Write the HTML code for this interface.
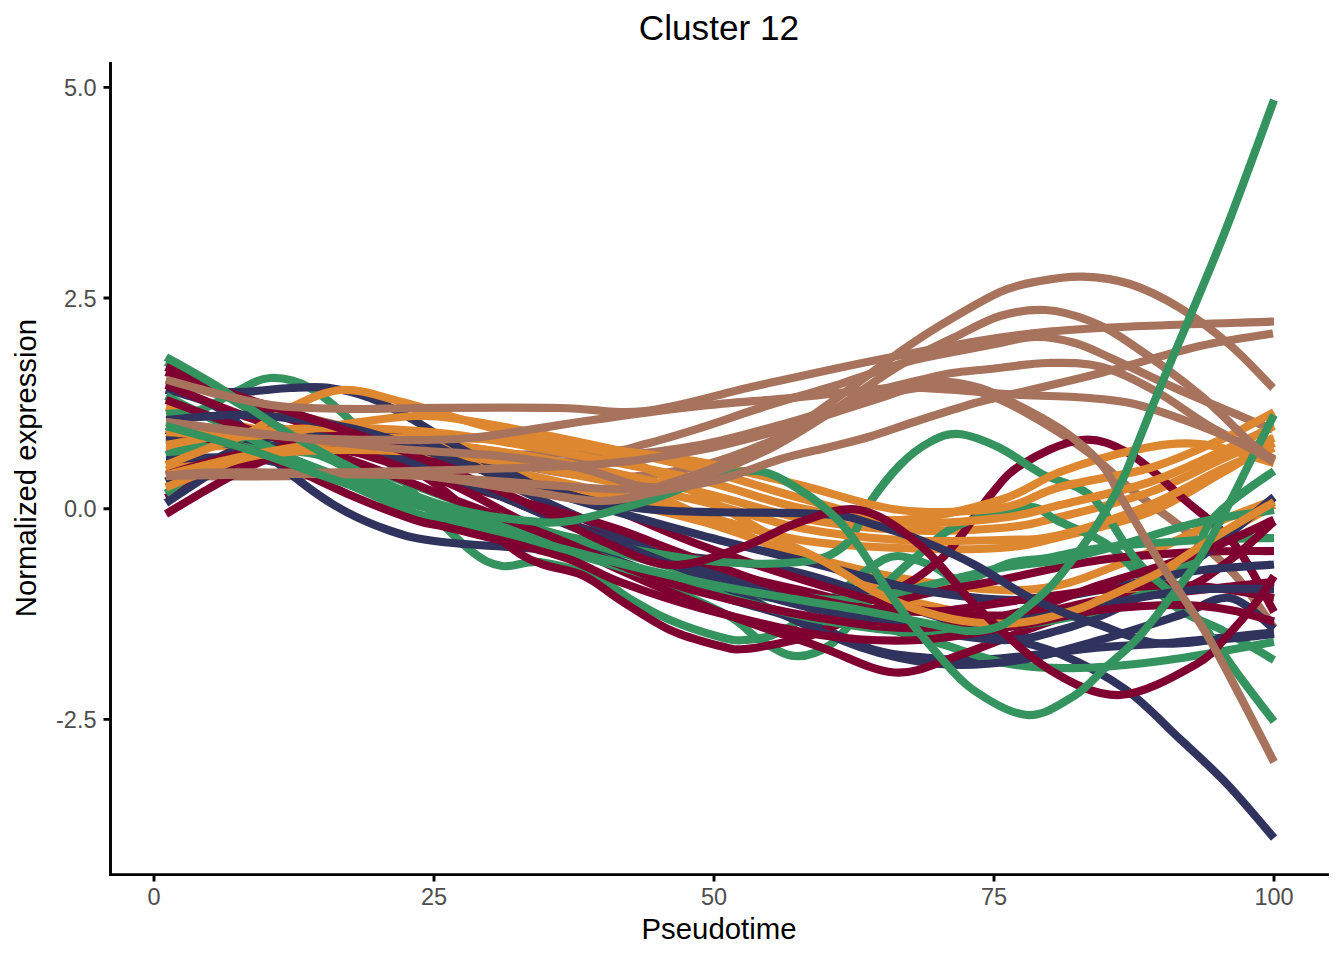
<!DOCTYPE html>
<html><head><meta charset="utf-8"><title>Cluster 12</title>
<style>
html,body{margin:0;padding:0;background:#fff;}
body{width:1344px;height:960px;overflow:hidden;font-family:"Liberation Sans",Arial,sans-serif;}
svg{display:block;}
text{font-family:"Liberation Sans",Arial,sans-serif;}
.tk{font-size:23.47px;fill:#4D4D4D;}
.ax{font-size:29.33px;fill:#000;}
.ti{font-size:35.2px;fill:#000;}
.c{fill:none;stroke-width:8.2;stroke-linejoin:round;stroke-linecap:butt;}
</style></head><body>
<svg width="1344" height="960" viewBox="0 0 1344 960">
<rect width="1344" height="960" fill="#fff"/>
<g class="c">
<path stroke="#A7735C" d="M166.0 476.0C188.3 476.0 252.7 477.0 300.0 476.0C347.3 475.0 400.0 473.0 450.0 470.0C500.0 467.0 558.3 462.2 600.0 458.0C641.7 453.8 670.0 450.5 700.0 445.0C730.0 439.5 758.3 430.8 780.0 425.0C801.7 419.2 813.3 415.0 830.0 410.0C846.7 405.0 861.7 399.0 880.0 395.0C898.3 391.0 923.3 386.5 940.0 386.0C956.7 385.5 966.5 388.0 980.0 392.0C993.5 396.0 1003.5 400.3 1021.0 410.0C1038.5 419.7 1066.0 436.2 1085.0 450.0C1104.0 463.8 1118.3 479.2 1135.0 492.5C1151.7 505.8 1168.3 516.2 1185.0 530.0C1201.7 543.8 1220.2 558.7 1235.0 575.0C1249.8 591.3 1267.5 619.2 1274.0 628.0"/>
<path stroke="#A7735C" d="M166.0 380.0C179.8 383.8 218.3 395.0 249.0 403.0C279.7 411.0 313.2 419.3 350.0 428.0C386.8 436.7 428.3 446.8 470.0 455.0C511.7 463.2 561.7 475.2 600.0 477.0C638.3 478.8 670.0 472.6 700.0 466.0C730.0 459.4 761.5 444.7 780.0 437.5C798.5 430.3 800.7 428.2 811.0 423.0C821.3 417.8 831.5 411.2 842.0 406.0C852.5 400.8 866.2 395.1 874.0 392.0C881.8 388.9 881.3 389.5 889.0 387.5C896.7 385.5 909.5 382.4 920.0 380.0C930.5 377.6 940.3 374.8 952.0 373.0C963.7 371.2 974.0 370.7 990.0 369.0C1006.0 367.3 1029.3 363.3 1048.0 363.0C1066.7 362.7 1083.8 362.2 1102.0 367.0C1120.2 371.8 1138.8 382.0 1157.0 392.0C1175.2 402.0 1191.5 415.8 1211.0 427.0C1230.5 438.2 1263.5 453.7 1274.0 459.0"/>
<path stroke="#A7735C" d="M166.0 437.0C186.7 438.8 244.0 445.0 290.0 448.0C336.0 451.0 390.3 454.3 442.0 455.0C493.7 455.7 566.2 453.8 600.0 452.0C633.8 450.2 628.3 448.0 645.0 444.0C661.7 440.0 681.8 433.7 700.0 428.0C718.2 422.3 737.3 415.3 754.0 410.0C770.7 404.7 786.7 400.0 800.0 396.0C813.3 392.0 824.3 389.0 834.0 386.0C843.7 383.0 844.7 382.3 858.0 378.0C871.3 373.7 892.0 365.5 914.0 360.0C936.0 354.5 969.8 348.8 990.0 345.0C1010.2 341.2 1020.8 337.3 1035.0 337.0C1049.2 336.7 1062.0 339.3 1075.0 343.0C1088.0 346.7 1094.8 350.8 1113.0 359.0C1131.2 367.2 1157.3 380.2 1184.0 392.0C1210.7 403.8 1258.2 423.3 1273.0 429.6"/>
<path stroke="#DD8730" d="M166.0 407.0C173.2 408.7 193.3 413.2 209.0 417.0C224.7 420.8 236.5 426.2 260.0 430.0C283.5 433.8 318.3 437.5 350.0 440.0C381.7 442.5 415.0 441.3 450.0 445.0C485.0 448.7 518.3 454.2 560.0 462.0C601.7 469.8 660.0 482.7 700.0 492.0C740.0 501.3 766.7 511.7 800.0 518.0C833.3 524.3 866.7 528.3 900.0 530.0C933.3 531.7 973.3 530.2 1000.0 528.0C1026.7 525.8 1035.0 523.0 1060.0 517.0C1085.0 511.0 1123.3 501.5 1150.0 492.0C1176.7 482.5 1203.3 467.5 1220.0 460.0C1236.7 452.5 1241.0 450.7 1250.0 447.0C1259.0 443.3 1270.0 439.5 1274.0 438.0"/>
<path stroke="#DD8730" d="M166.0 450.0C180.0 449.2 219.3 445.3 250.0 445.0C280.7 444.7 316.7 445.5 350.0 448.0C383.3 450.5 415.0 454.3 450.0 460.0C485.0 465.7 518.3 472.8 560.0 482.0C601.7 491.2 660.0 505.3 700.0 515.0C740.0 524.7 766.7 534.5 800.0 540.0C833.3 545.5 866.7 546.7 900.0 548.0C933.3 549.3 973.3 549.8 1000.0 548.0C1026.7 546.2 1035.0 543.0 1060.0 537.0C1085.0 531.0 1123.3 522.5 1150.0 512.0C1176.7 501.5 1203.3 483.3 1220.0 474.0C1236.7 464.7 1241.0 461.2 1250.0 456.0C1259.0 450.8 1270.0 445.2 1274.0 443.0"/>
<path stroke="#DD8730" d="M166.0 470.0C180.0 467.0 219.3 455.7 250.0 452.0C280.7 448.3 316.7 446.7 350.0 448.0C383.3 449.3 415.0 453.3 450.0 460.0C485.0 466.7 518.3 477.8 560.0 488.0C601.7 498.2 660.0 510.0 700.0 521.0C740.0 532.0 766.7 544.5 800.0 554.0C833.3 563.5 866.7 572.0 900.0 578.0C933.3 584.0 973.3 588.8 1000.0 590.0C1026.7 591.2 1041.7 588.7 1060.0 585.0C1078.3 581.3 1093.3 574.2 1110.0 568.0C1126.7 561.8 1143.3 555.2 1160.0 548.0C1176.7 540.8 1191.0 533.0 1210.0 525.0C1229.0 517.0 1263.3 504.2 1274.0 500.0"/>
<path stroke="#DD8730" d="M166.0 455.0C180.0 452.5 219.3 443.3 250.0 440.0C280.7 436.7 316.7 434.2 350.0 435.0C383.3 435.8 415.0 440.5 450.0 445.0C485.0 449.5 531.7 456.2 560.0 462.0C588.3 467.8 596.7 471.2 620.0 480.0C643.3 488.8 675.0 504.2 700.0 515.0C725.0 525.8 750.0 537.2 770.0 545.0C790.0 552.8 798.3 553.2 820.0 562.0C841.7 570.8 870.0 588.7 900.0 598.0C930.0 607.3 973.3 614.8 1000.0 618.0C1026.7 621.2 1041.7 620.0 1060.0 617.0C1078.3 614.0 1093.3 607.0 1110.0 600.0C1126.7 593.0 1143.3 584.7 1160.0 575.0C1176.7 565.3 1191.0 553.7 1210.0 542.0C1229.0 530.3 1263.3 511.2 1274.0 505.0"/>
<path stroke="#35935F" d="M166.0 414.0C171.7 413.3 188.2 413.8 200.0 410.0C211.8 406.2 225.3 396.3 237.0 391.0C248.7 385.7 257.8 378.5 270.0 378.0C282.2 377.5 295.0 379.3 310.0 388.0C325.0 396.7 341.7 411.3 360.0 430.0C378.3 448.7 401.7 480.0 420.0 500.0C438.3 520.0 456.3 539.0 470.0 550.0C483.7 561.0 490.3 564.0 502.0 566.0C513.7 568.0 524.5 560.2 540.0 562.0C555.5 563.8 579.7 570.7 595.0 577.0C610.3 583.3 619.5 592.8 632.0 600.0C644.5 607.2 655.3 613.8 670.0 620.0C684.7 626.2 707.5 633.7 720.0 637.0C732.5 640.3 735.0 640.8 745.0 640.0C755.0 639.2 765.8 638.7 780.0 632.0C794.2 625.3 815.0 610.7 830.0 600.0C845.0 589.3 858.8 575.3 870.0 568.0C881.2 560.7 887.0 556.5 897.0 556.0C907.0 555.5 919.0 561.0 930.0 565.0C941.0 569.0 949.7 580.3 963.0 580.0C976.3 579.7 996.0 566.7 1010.0 563.0C1024.0 559.3 1032.0 560.5 1047.0 558.0C1062.0 555.5 1074.5 551.0 1100.0 548.0C1125.5 545.0 1171.0 541.7 1200.0 540.0C1229.0 538.3 1261.7 538.3 1274.0 538.0"/>
<path stroke="#31335F" d="M166.0 389.5C173.2 391.8 196.7 397.1 209.0 403.0C221.3 408.9 228.2 414.7 240.0 425.0C251.8 435.3 264.3 451.7 280.0 465.0C295.7 478.3 316.0 494.2 334.0 505.0C352.0 515.8 370.0 523.8 388.0 530.0C406.0 536.2 413.3 538.7 442.0 542.0C470.7 545.3 517.0 547.3 560.0 550.0C603.0 552.7 660.0 554.2 700.0 558.0C740.0 561.8 766.7 565.2 800.0 573.0C833.3 580.8 866.7 594.5 900.0 605.0C933.3 615.5 973.3 627.8 1000.0 636.0C1026.7 644.2 1039.2 645.2 1060.0 654.0C1080.8 662.8 1105.0 674.8 1125.0 689.0C1145.0 703.2 1163.0 723.2 1180.0 739.0C1197.0 754.8 1211.3 767.5 1227.0 784.0C1242.7 800.5 1266.2 829.0 1274.0 838.0"/>
<path stroke="#7F0030" d="M166.0 372.0C180.0 377.5 219.3 393.7 250.0 405.0C280.7 416.3 316.7 428.3 350.0 440.0C383.3 451.7 415.0 461.7 450.0 475.0C485.0 488.3 518.3 505.0 560.0 520.0C601.7 535.0 660.0 553.3 700.0 565.0C740.0 576.7 771.7 584.2 800.0 590.0C828.3 595.8 846.7 605.0 870.0 600.0C893.3 595.0 920.2 577.2 940.0 560.0C959.8 542.8 975.5 512.8 989.0 497.0C1002.5 481.2 1005.7 474.5 1021.0 465.0C1036.3 455.5 1062.8 441.8 1081.0 440.0C1099.2 438.2 1112.7 444.0 1130.0 454.0C1147.3 464.0 1167.5 484.8 1185.0 500.0C1202.5 515.2 1220.2 526.3 1235.0 545.0C1249.8 563.7 1267.5 600.8 1274.0 612.0"/>
<path stroke="#35935F" d="M166.0 455.0C174.8 452.7 200.0 443.2 219.0 441.0C238.0 438.8 258.2 437.5 280.0 442.0C301.8 446.5 321.7 456.7 350.0 468.0C378.3 479.3 415.0 497.2 450.0 510.0C485.0 522.8 526.7 533.3 560.0 545.0C593.3 556.7 622.2 568.3 650.0 580.0C677.8 591.7 708.7 605.0 727.0 615.0C745.3 625.0 748.7 633.2 760.0 640.0C771.3 646.8 783.3 655.2 795.0 656.0C806.7 656.8 819.2 652.3 830.0 645.0C840.8 637.7 850.3 622.5 860.0 612.0C869.7 601.5 877.7 592.0 888.0 582.0C898.3 572.0 910.2 561.5 922.0 552.0C933.8 542.5 941.5 532.5 959.0 525.0C976.5 517.5 1010.5 507.7 1027.0 507.0C1043.5 506.3 1045.0 515.0 1058.0 521.0C1071.0 527.0 1091.3 534.0 1105.0 543.0C1118.7 552.0 1127.5 563.8 1140.0 575.0C1152.5 586.2 1166.3 600.8 1180.0 610.0C1193.7 619.2 1206.3 621.7 1222.0 630.0C1237.7 638.3 1265.3 655.0 1274.0 660.0"/>
<path stroke="#31335F" d="M166.0 460.0C180.0 459.7 219.3 454.7 250.0 458.0C280.7 461.3 322.5 473.0 350.0 480.0C377.5 487.0 398.3 495.0 415.0 500.0C431.7 505.0 425.8 503.3 450.0 510.0C474.2 516.7 518.3 526.7 560.0 540.0C601.7 553.3 660.0 576.7 700.0 590.0C740.0 603.3 770.8 610.0 800.0 620.0C829.2 630.0 854.2 643.8 875.0 650.0C895.8 656.2 908.3 655.8 925.0 657.5C941.7 659.2 958.3 660.2 975.0 660.0C991.7 659.8 1004.2 658.1 1025.0 656.0C1045.8 653.9 1076.2 649.7 1100.0 647.5C1123.8 645.3 1139.0 645.5 1168.0 643.0C1197.0 640.5 1256.3 634.2 1274.0 632.5"/>
<path stroke="#7F0030" d="M166.0 498.0C175.0 493.3 199.3 478.0 220.0 470.0C240.7 462.0 266.7 453.3 290.0 450.0C313.3 446.7 336.7 445.0 360.0 450.0C383.3 455.0 403.3 462.7 430.0 480.0C456.7 497.3 494.7 538.2 520.0 554.0C545.3 569.8 565.3 567.3 582.0 575.0C598.7 582.7 605.3 590.8 620.0 600.0C634.7 609.2 653.3 622.3 670.0 630.0C686.7 637.7 707.5 642.8 720.0 646.0C732.5 649.2 732.5 650.0 745.0 649.0C757.5 648.0 782.5 642.8 795.0 640.0C807.5 637.2 802.5 638.7 820.0 632.0C837.5 625.3 870.0 608.7 900.0 600.0C930.0 591.3 966.7 586.7 1000.0 580.0C1033.3 573.3 1066.7 564.7 1100.0 560.0C1133.3 555.3 1171.0 553.5 1200.0 552.0C1229.0 550.5 1261.7 551.2 1274.0 551.0"/>
<path stroke="#35935F" d="M166.0 362.0C174.8 367.0 200.0 381.0 219.0 392.0C238.0 403.0 258.2 415.0 280.0 428.0C301.8 441.0 321.7 456.0 350.0 470.0C378.3 484.0 415.0 499.5 450.0 512.0C485.0 524.5 518.3 532.8 560.0 545.0C601.7 557.2 660.0 575.3 700.0 585.0C740.0 594.7 773.3 597.0 800.0 603.0C826.7 609.0 837.5 614.5 860.0 621.0C882.5 627.5 910.0 634.8 935.0 642.0C960.0 649.2 985.8 659.7 1010.0 664.0C1034.2 668.3 1053.7 668.7 1080.0 668.0C1106.3 667.3 1135.7 664.3 1168.0 660.0C1200.3 655.7 1256.3 645.0 1274.0 642.0"/>
<path stroke="#31335F" d="M166.0 481.6C173.2 478.3 193.3 468.9 209.0 462.0C224.7 455.1 239.8 445.7 260.0 440.0C280.2 434.3 303.3 428.0 330.0 428.0C356.7 428.0 388.3 429.7 420.0 440.0C451.7 450.3 483.3 472.5 520.0 490.0C556.7 507.5 600.0 526.0 640.0 545.0C680.0 564.0 723.3 587.0 760.0 604.0C796.7 621.0 830.0 637.0 860.0 647.0C890.0 657.0 913.3 661.8 940.0 664.0C966.7 666.2 993.3 664.0 1020.0 660.0C1046.7 656.0 1073.3 647.5 1100.0 640.0C1126.7 632.5 1158.3 622.0 1180.0 615.0C1201.7 608.0 1214.3 595.7 1230.0 598.0C1245.7 600.3 1266.7 623.8 1274.0 629.0"/>
<path stroke="#7F0030" d="M166.0 514.0C173.2 509.8 195.2 496.3 209.0 488.5C222.8 480.7 235.5 473.2 249.0 467.0C262.5 460.8 278.2 454.3 290.0 451.0C301.8 447.7 309.5 446.8 320.0 447.0C330.5 447.2 341.8 449.8 353.0 452.0C364.2 454.2 370.3 454.5 387.0 460.0C403.7 465.5 430.8 475.0 453.0 485.0C475.2 495.0 492.2 505.8 520.0 520.0C547.8 534.2 586.7 554.7 620.0 570.0C653.3 585.3 686.7 599.2 720.0 612.0C753.3 624.8 790.8 636.9 820.0 647.0C849.2 657.1 871.7 671.2 895.0 672.5C918.3 673.8 935.8 662.9 960.0 655.0C984.2 647.1 1013.3 634.2 1040.0 625.0C1066.7 615.8 1093.3 605.8 1120.0 600.0C1146.7 594.2 1174.3 593.0 1200.0 590.0C1225.7 587.0 1261.7 583.3 1274.0 582.0"/>
<path stroke="#35935F" d="M166.0 493.5C171.7 489.6 186.0 476.9 200.0 470.0C214.0 463.1 230.0 454.5 250.0 452.0C270.0 449.5 295.0 450.3 320.0 455.0C345.0 459.7 373.3 470.8 400.0 480.0C426.7 489.2 453.3 500.8 480.0 510.0C506.7 519.2 523.3 524.2 560.0 535.0C596.7 545.8 660.0 564.8 700.0 575.0C740.0 585.2 773.3 592.0 800.0 596.0C826.7 600.0 838.3 600.8 860.0 599.0C881.7 597.2 906.7 590.2 930.0 585.0C953.3 579.8 978.3 572.2 1000.0 568.0C1021.7 563.8 1040.0 563.8 1060.0 560.0C1080.0 556.2 1096.7 551.3 1120.0 545.0C1143.3 538.7 1174.3 527.8 1200.0 522.0C1225.7 516.2 1261.7 512.0 1274.0 510.0"/>
<path stroke="#31335F" d="M166.0 503.0C173.2 498.3 198.5 481.3 209.0 474.6C219.5 467.9 219.0 467.6 229.0 463.0C239.0 458.4 253.8 450.8 269.0 447.0C284.2 443.2 301.5 439.8 320.0 440.0C338.5 440.2 355.0 441.0 380.0 448.0C405.0 455.0 436.7 468.3 470.0 482.0C503.3 495.7 541.7 515.3 580.0 530.0C618.3 544.7 663.3 558.3 700.0 570.0C736.7 581.7 766.7 590.8 800.0 600.0C833.3 609.2 866.7 618.3 900.0 625.0C933.3 631.7 973.3 639.2 1000.0 640.0C1026.7 640.8 1041.7 634.7 1060.0 630.0C1078.3 625.3 1093.3 619.5 1110.0 612.0C1126.7 604.5 1143.3 595.3 1160.0 585.0C1176.7 574.7 1191.0 564.7 1210.0 550.0C1229.0 535.3 1263.3 505.8 1274.0 497.0"/>
<path stroke="#7F0030" d="M166.0 475.0C180.0 471.2 219.3 456.7 250.0 452.0C280.7 447.3 316.7 445.3 350.0 447.0C383.3 448.7 415.0 454.5 450.0 462.0C485.0 469.5 531.7 483.7 560.0 492.0C588.3 500.3 596.7 503.2 620.0 512.0C643.3 520.8 666.7 532.8 700.0 545.0C733.3 557.2 783.3 574.2 820.0 585.0C856.7 595.8 886.7 605.0 920.0 610.0C953.3 615.0 990.0 616.7 1020.0 615.0C1050.0 613.3 1073.3 604.2 1100.0 600.0C1126.7 595.8 1158.3 596.7 1180.0 590.0C1201.7 583.3 1214.3 571.4 1230.0 560.0C1245.7 548.6 1266.7 527.9 1274.0 521.5"/>
<path stroke="#35935F" d="M166.0 396.0C180.0 403.0 219.3 423.2 250.0 438.0C280.7 452.8 322.5 472.5 350.0 485.0C377.5 497.5 398.3 506.8 415.0 513.0C431.7 519.2 425.8 515.8 450.0 522.0C474.2 528.2 518.3 538.7 560.0 550.0C601.7 561.3 656.7 578.3 700.0 590.0C743.3 601.7 783.3 613.0 820.0 620.0C856.7 627.0 886.7 631.2 920.0 632.0C953.3 632.8 990.0 628.7 1020.0 625.0C1050.0 621.3 1076.7 616.7 1100.0 610.0C1123.3 603.3 1145.0 593.3 1160.0 585.0C1175.0 576.7 1181.5 570.7 1190.0 560.0C1198.5 549.3 1202.7 531.8 1211.0 521.0C1219.3 510.2 1229.5 503.3 1240.0 495.0C1250.5 486.7 1268.3 475.0 1274.0 471.0"/>
<path stroke="#31335F" d="M166.0 383.0C176.7 384.5 209.3 391.2 230.0 392.0C250.7 392.8 273.3 388.7 290.0 388.0C306.7 387.3 316.7 386.3 330.0 388.0C343.3 389.7 356.7 393.0 370.0 398.0C383.3 403.0 395.0 409.7 410.0 418.0C425.0 426.3 441.7 438.0 460.0 448.0C478.3 458.0 503.3 470.2 520.0 478.0C536.7 485.8 530.0 485.5 560.0 495.0C590.0 504.5 656.7 523.3 700.0 535.0C743.3 546.7 783.3 555.8 820.0 565.0C856.7 574.2 886.7 584.2 920.0 590.0C953.3 595.8 990.0 600.0 1020.0 600.0C1050.0 600.0 1071.5 594.8 1100.0 590.0C1128.5 585.2 1162.0 575.8 1191.0 571.5C1220.0 567.2 1260.2 565.7 1274.0 564.5"/>
<path stroke="#7F0030" d="M166.0 385.0C180.0 390.5 219.3 407.2 250.0 418.0C280.7 428.8 316.7 439.3 350.0 450.0C383.3 460.7 415.0 471.7 450.0 482.0C485.0 492.3 531.7 504.0 560.0 512.0C588.3 520.0 596.7 522.0 620.0 530.0C643.3 538.0 666.7 548.3 700.0 560.0C733.3 571.7 783.3 591.3 820.0 600.0C856.7 608.7 886.7 612.0 920.0 612.0C953.3 612.0 990.0 603.7 1020.0 600.0C1050.0 596.3 1073.3 592.5 1100.0 590.0C1126.7 587.5 1158.3 585.0 1180.0 585.0C1201.7 585.0 1214.3 587.8 1230.0 590.0C1245.7 592.2 1266.7 596.7 1274.0 598.0"/>
<path stroke="#35935F" d="M166.0 441.0C174.8 441.3 200.0 440.7 219.0 443.0C238.0 445.3 258.2 448.8 280.0 455.0C301.8 461.2 321.7 471.2 350.0 480.0C378.3 488.8 415.0 498.8 450.0 508.0C485.0 517.2 518.3 526.3 560.0 535.0C601.7 543.7 660.0 555.5 700.0 560.0C740.0 564.5 775.8 564.5 800.0 562.0C824.2 559.5 833.4 554.8 845.0 545.0C856.6 535.2 860.4 516.3 869.6 503.0C878.8 489.7 889.9 475.2 900.0 465.0C910.1 454.8 920.2 447.2 930.0 442.0C939.8 436.8 947.3 433.0 959.0 434.0C970.7 435.0 986.2 441.3 1000.0 448.0C1013.8 454.7 1026.7 465.8 1042.0 474.0C1057.3 482.2 1076.3 482.7 1092.0 497.0C1107.7 511.3 1122.3 543.7 1136.0 560.0C1149.7 576.3 1163.5 585.0 1174.0 595.0C1184.5 605.0 1188.0 606.3 1199.0 620.0C1210.0 633.7 1227.5 660.1 1240.0 677.0C1252.5 693.9 1268.3 714.1 1274.0 721.5"/>
<path stroke="#31335F" d="M166.0 440.0C180.0 438.7 219.3 431.7 250.0 432.0C280.7 432.3 316.7 434.5 350.0 442.0C383.3 449.5 415.0 464.0 450.0 477.0C485.0 490.0 518.3 503.7 560.0 520.0C601.7 536.3 656.7 560.0 700.0 575.0C743.3 590.0 783.3 601.7 820.0 610.0C856.7 618.3 886.7 623.3 920.0 625.0C953.3 626.7 990.0 623.3 1020.0 620.0C1050.0 616.7 1071.5 610.0 1100.0 605.0C1128.5 600.0 1162.0 592.7 1191.0 590.0C1220.0 587.3 1260.2 589.2 1274.0 589.0"/>
<path stroke="#7F0030" d="M166.0 400.0C180.0 405.0 219.3 420.0 250.0 430.0C280.7 440.0 316.7 448.7 350.0 460.0C383.3 471.3 415.0 484.7 450.0 498.0C485.0 511.3 531.7 528.8 560.0 540.0C588.3 551.2 596.7 556.3 620.0 565.0C643.3 573.7 666.7 583.2 700.0 592.0C733.3 600.8 783.3 612.0 820.0 618.0C856.7 624.0 886.7 629.0 920.0 628.0C953.3 627.0 990.0 619.2 1020.0 612.0C1050.0 604.8 1073.3 593.7 1100.0 585.0C1126.7 576.3 1158.3 567.5 1180.0 560.0C1201.7 552.5 1214.3 546.7 1230.0 540.0C1245.7 533.3 1266.7 523.1 1274.0 519.7"/>
<path stroke="#7F0030" d="M166.0 430.0C180.0 433.3 219.3 439.2 250.0 450.0C280.7 460.8 322.5 483.3 350.0 495.0C377.5 506.7 398.3 514.5 415.0 520.0C431.7 525.5 425.8 522.0 450.0 528.0C474.2 534.0 531.7 547.0 560.0 556.0C588.3 565.0 596.7 573.3 620.0 582.0C643.3 590.7 666.7 599.2 700.0 608.0C733.3 616.8 783.3 629.7 820.0 635.0C856.7 640.3 886.7 641.7 920.0 640.0C953.3 638.3 990.0 630.0 1020.0 625.0C1050.0 620.0 1073.3 613.3 1100.0 610.0C1126.7 606.7 1158.3 605.0 1180.0 605.0C1201.7 605.0 1214.3 607.2 1230.0 610.0C1245.7 612.8 1266.7 619.6 1274.0 621.5"/>
<path stroke="#DD8730" d="M166.0 465.0C173.2 462.2 195.0 453.5 209.0 448.0C223.0 442.5 236.5 438.7 250.0 432.0C263.5 425.3 274.7 415.0 290.0 408.0C305.3 401.0 323.3 391.0 342.0 390.0C360.7 389.0 375.7 395.3 402.0 402.0C428.3 408.7 467.0 422.3 500.0 430.0C533.0 437.7 566.7 442.7 600.0 448.0C633.3 453.3 666.7 455.8 700.0 462.0C733.3 468.2 766.7 477.0 800.0 485.0C833.3 493.0 866.7 506.2 900.0 510.0C933.3 513.8 973.3 511.8 1000.0 508.0C1026.7 504.2 1035.0 493.7 1060.0 487.0C1085.0 480.3 1123.3 475.8 1150.0 468.0C1176.7 460.2 1203.3 447.2 1220.0 440.0C1236.7 432.8 1241.0 429.7 1250.0 425.0C1259.0 420.3 1270.0 414.2 1274.0 412.0"/>
<path stroke="#DD8730" d="M166.0 432.0C180.0 432.7 222.7 437.0 250.0 436.0C277.3 435.0 302.5 429.3 330.0 426.0C357.5 422.7 391.7 416.8 415.0 416.0C438.3 415.2 445.8 417.3 470.0 421.0C494.2 424.7 521.7 430.0 560.0 438.0C598.3 446.0 660.0 459.0 700.0 469.0C740.0 479.0 766.7 489.2 800.0 498.0C833.3 506.8 866.7 518.7 900.0 522.0C933.3 525.3 973.3 520.8 1000.0 518.0C1026.7 515.2 1035.0 511.0 1060.0 505.0C1085.0 499.0 1123.3 490.8 1150.0 482.0C1176.7 473.2 1203.3 459.3 1220.0 452.0C1236.7 444.7 1241.0 442.3 1250.0 438.0C1259.0 433.7 1270.0 428.0 1274.0 426.0"/>
<path stroke="#DD8730" d="M166.0 487.5C173.2 484.6 193.3 475.4 209.0 470.0C224.7 464.6 236.5 458.3 260.0 455.0C283.5 451.7 318.3 450.0 350.0 450.0C381.7 450.0 415.0 451.3 450.0 455.0C485.0 458.7 518.3 464.3 560.0 472.0C601.7 479.7 660.0 491.7 700.0 501.0C740.0 510.3 766.7 521.5 800.0 528.0C833.3 534.5 866.7 538.0 900.0 540.0C933.3 542.0 973.3 540.8 1000.0 540.0C1026.7 539.2 1035.0 540.8 1060.0 535.0C1085.0 529.2 1123.3 515.8 1150.0 505.0C1176.7 494.2 1203.3 478.0 1220.0 470.0C1236.7 462.0 1241.0 460.7 1250.0 457.0C1259.0 453.3 1270.0 449.5 1274.0 448.0"/>
<path stroke="#DD8730" d="M166.0 445.0C180.0 442.8 219.3 434.8 250.0 432.0C280.7 429.2 316.7 427.7 350.0 428.0C383.3 428.3 415.0 430.0 450.0 434.0C485.0 438.0 518.3 444.3 560.0 452.0C601.7 459.7 660.0 470.7 700.0 480.0C740.0 489.3 766.7 501.3 800.0 508.0C833.3 514.7 866.7 521.3 900.0 520.0C933.3 518.7 973.3 508.0 1000.0 500.0C1026.7 492.0 1037.5 480.3 1060.0 472.0C1082.5 463.7 1111.7 454.7 1135.0 450.0C1158.3 445.3 1176.8 441.8 1200.0 444.0C1223.2 446.2 1261.7 459.8 1274.0 463.0"/>
<path stroke="#DD8730" d="M166.0 475.0C180.0 471.7 219.3 460.8 250.0 455.0C280.7 449.2 316.7 442.8 350.0 440.0C383.3 437.2 415.0 437.2 450.0 438.0C485.0 438.8 531.7 441.8 560.0 445.0C588.3 448.2 596.7 448.7 620.0 457.0C643.3 465.3 675.0 482.0 700.0 495.0C725.0 508.0 749.2 523.8 770.0 535.0C790.8 546.2 807.5 552.5 825.0 562.0C842.5 571.5 858.3 583.7 875.0 592.0C891.7 600.3 908.3 606.9 925.0 612.0C941.7 617.1 958.3 620.8 975.0 622.5C991.7 624.2 1008.3 624.1 1025.0 622.0C1041.7 619.9 1062.5 613.7 1075.0 610.0C1087.5 606.3 1085.8 606.3 1100.0 600.0C1114.2 593.7 1141.7 582.0 1160.0 572.0C1178.3 562.0 1191.0 551.7 1210.0 540.0C1229.0 528.3 1263.3 508.3 1274.0 502.0"/>
<path stroke="#31335F" d="M166.0 420.0C180.0 419.2 219.3 413.7 250.0 415.0C280.7 416.3 320.0 421.8 350.0 428.0C380.0 434.2 401.7 443.0 430.0 452.0C458.3 461.0 484.2 472.5 520.0 482.0C555.8 491.5 595.0 503.7 645.0 509.0C695.0 514.3 781.7 511.3 820.0 514.0C858.3 516.7 857.5 520.3 875.0 525.0C892.5 529.7 908.3 535.3 925.0 542.0C941.7 548.7 958.3 556.2 975.0 565.0C991.7 573.8 1010.5 587.2 1025.0 595.0C1039.5 602.8 1049.5 607.0 1062.0 612.0C1074.5 617.0 1084.5 619.8 1100.0 625.0C1115.5 630.2 1135.8 640.5 1155.0 643.0C1174.2 645.5 1195.2 641.5 1215.0 640.0C1234.8 638.5 1264.2 635.0 1274.0 634.0"/>
<path stroke="#7F0030" d="M166.0 367.0C171.7 369.5 186.0 376.5 200.0 382.0C214.0 387.5 233.3 394.5 250.0 400.0C266.7 405.5 275.0 406.7 300.0 415.0C325.0 423.3 363.3 435.8 400.0 450.0C436.7 464.2 486.7 485.0 520.0 500.0C553.3 515.0 575.0 529.2 600.0 540.0C625.0 550.8 646.7 563.7 670.0 565.0C693.3 566.3 718.3 555.2 740.0 548.0C761.7 540.8 780.0 528.3 800.0 522.0C820.0 515.7 840.0 506.2 860.0 510.0C880.0 513.8 900.0 528.3 920.0 545.0C940.0 561.7 958.3 589.2 980.0 610.0C1001.7 630.8 1026.7 655.8 1050.0 670.0C1073.3 684.2 1095.8 695.8 1120.0 695.0C1144.2 694.2 1177.0 675.0 1195.0 665.0C1213.0 655.0 1217.5 645.8 1228.0 635.0C1238.5 624.2 1250.3 609.8 1258.0 600.0C1265.7 590.2 1271.3 580.0 1274.0 576.0"/>
<path stroke="#35935F" d="M166.0 357.0C174.8 362.1 200.0 375.7 219.0 387.5C238.0 399.3 259.8 415.6 280.0 428.0C300.2 440.4 320.0 451.7 340.0 462.0C360.0 472.3 380.0 482.0 400.0 490.0C420.0 498.0 440.0 505.0 460.0 510.0C480.0 515.0 501.7 518.2 520.0 520.0C538.3 521.8 548.3 524.3 570.0 521.0C591.7 517.7 628.3 506.5 650.0 500.0C671.7 493.5 682.2 486.8 700.0 482.0C717.8 477.2 740.3 469.7 757.0 471.0C773.7 472.3 786.7 482.0 800.0 490.0C813.3 498.0 827.0 509.3 837.0 519.0C847.0 528.7 850.0 533.8 860.0 548.0C870.0 562.2 884.5 586.8 897.0 604.0C909.5 621.2 922.5 636.8 935.0 651.0C947.5 665.2 956.7 678.3 972.0 689.0C987.3 699.7 1010.0 713.8 1027.0 715.0C1044.0 716.2 1061.0 703.8 1074.0 696.0C1087.0 688.2 1094.7 677.3 1105.0 668.0C1115.3 658.7 1125.7 651.0 1136.0 640.0C1146.3 629.0 1156.5 615.5 1167.0 602.0C1177.5 588.5 1188.5 575.7 1199.0 559.0C1209.5 542.3 1221.5 518.2 1230.0 502.0C1238.5 485.8 1242.7 476.5 1250.0 462.0C1257.3 447.5 1270.0 422.8 1274.0 415.0"/>
<path stroke="#A7735C" d="M166.0 475.0C188.3 474.7 252.7 473.8 300.0 473.0C347.3 472.2 400.0 471.5 450.0 470.0C500.0 468.5 558.3 467.3 600.0 464.0C641.7 460.7 670.0 455.7 700.0 450.0C730.0 444.3 758.3 436.0 780.0 430.0C801.7 424.0 813.3 419.3 830.0 414.0C846.7 408.7 865.0 402.8 880.0 398.0C895.0 393.2 908.3 387.7 920.0 385.0C931.7 382.3 940.0 381.5 950.0 382.0C960.0 382.5 970.3 385.0 980.0 388.0C989.7 391.0 994.3 393.0 1008.0 400.0C1021.7 407.0 1046.3 419.2 1062.0 430.0C1077.7 440.8 1091.9 453.3 1102.0 465.0C1112.1 476.7 1112.8 483.8 1122.5 500.0C1132.2 516.2 1149.6 545.8 1160.0 562.5C1170.4 579.2 1176.7 587.1 1185.0 600.0C1193.3 612.9 1200.8 624.0 1210.0 640.0C1219.2 656.0 1229.3 675.7 1240.0 696.0C1250.7 716.3 1268.3 751.0 1274.0 762.0"/>
<path stroke="#A7735C" d="M166.0 422.0C186.7 424.5 251.0 434.0 290.0 437.0C329.0 440.0 370.0 439.8 400.0 440.0C430.0 440.2 446.7 440.0 470.0 438.0C493.3 436.0 518.3 431.2 540.0 428.0C561.7 424.8 573.3 422.7 600.0 419.0C626.7 415.3 668.3 409.5 700.0 406.0C731.7 402.5 758.3 401.0 790.0 398.0C821.7 395.0 865.0 389.5 890.0 388.0C915.0 386.5 918.2 387.8 940.0 389.0C961.8 390.2 998.5 393.7 1021.0 395.0C1043.5 396.3 1056.8 395.7 1075.0 397.0C1093.2 398.3 1111.8 399.2 1130.0 403.0C1148.2 406.8 1166.0 413.5 1184.0 420.0C1202.0 426.5 1223.0 435.0 1238.0 442.0C1253.0 449.0 1268.0 458.7 1274.0 462.0"/>
<path stroke="#A7735C" d="M166.0 422.0C186.7 424.5 251.0 432.5 290.0 437.0C329.0 441.5 365.0 445.8 400.0 449.0C435.0 452.2 470.0 452.8 500.0 456.0C530.0 459.2 556.7 463.0 580.0 468.0C603.3 473.0 623.3 483.3 640.0 486.0C656.7 488.7 666.5 486.7 680.0 484.0C693.5 481.3 705.2 476.3 721.0 470.0C736.8 463.7 756.9 455.5 775.0 446.0C793.1 436.5 812.8 423.8 829.6 413.0C846.4 402.2 862.0 390.0 875.6 381.0C889.2 372.0 897.9 366.2 911.0 359.0C924.1 351.8 939.2 344.7 954.0 337.5C968.8 330.3 984.7 320.6 1000.0 316.0C1015.3 311.4 1030.6 309.2 1045.6 310.0C1060.6 310.8 1076.0 315.5 1090.0 321.0C1104.0 326.5 1111.3 330.7 1129.6 343.0C1147.9 355.3 1179.8 378.3 1200.0 395.0C1220.2 411.7 1238.7 432.2 1251.0 443.0C1263.3 453.8 1270.2 457.2 1274.0 460.0"/>
<path stroke="#A7735C" d="M166.0 476.0C186.7 475.7 247.7 474.0 290.0 474.0C332.3 474.0 375.0 474.0 420.0 476.0C465.0 478.0 523.3 483.7 560.0 486.0C596.7 488.3 622.2 490.3 640.0 490.0C657.8 489.7 653.5 488.2 667.0 484.0C680.5 479.8 703.0 472.2 721.0 465.0C739.0 457.8 759.2 449.2 775.0 440.5C790.8 431.8 802.3 422.5 816.0 413.0C829.7 403.5 843.5 393.3 857.0 383.5C870.5 373.7 883.5 363.5 897.0 354.0C910.5 344.5 920.8 337.0 938.0 326.7C955.2 316.4 983.0 299.6 1000.0 292.0C1017.0 284.4 1026.2 283.6 1040.0 281.0C1053.8 278.4 1068.0 276.1 1083.0 276.6C1098.0 277.1 1113.8 278.8 1130.0 284.0C1146.2 289.2 1163.3 297.8 1180.0 308.0C1196.7 318.2 1214.5 331.7 1230.0 345.0C1245.5 358.3 1265.8 380.8 1273.0 388.0"/>
<path stroke="#A7735C" d="M166.0 475.6C173.2 475.1 188.3 473.2 209.0 472.7C229.7 472.2 255.7 472.3 290.0 472.7C324.3 473.1 376.7 472.1 415.0 475.0C453.3 477.9 489.2 485.7 520.0 490.0C550.8 494.3 576.7 500.8 600.0 501.0C623.3 501.2 639.8 494.7 660.0 491.0C680.2 487.3 700.8 484.3 721.0 479.0C741.2 473.7 762.8 464.3 781.0 459.0C799.2 453.7 814.8 450.8 830.0 447.0C845.2 443.2 857.0 440.5 872.0 436.0C887.0 431.5 902.8 425.5 920.0 420.0C937.2 414.5 961.7 406.8 975.0 403.0C988.3 399.2 978.8 402.1 1000.0 397.0C1021.2 391.9 1068.7 381.2 1102.0 372.7C1135.3 364.2 1171.5 352.6 1200.0 346.0C1228.5 339.4 1260.8 335.5 1273.0 333.4"/>
<path stroke="#A7735C" d="M166.0 379.6C173.2 381.6 195.2 387.9 209.0 391.5C222.8 395.1 235.5 398.4 249.0 401.0C262.5 403.6 271.5 405.7 290.0 407.0C308.5 408.3 338.3 408.8 360.0 409.0C381.7 409.2 386.7 408.2 420.0 408.0C453.3 407.8 522.5 407.5 560.0 408.0C597.5 408.5 612.3 414.7 645.0 411.0C677.7 407.3 717.3 394.5 756.0 386.0C794.7 377.5 836.3 368.1 877.0 360.0C917.7 351.9 962.8 342.8 1000.0 337.5C1037.2 332.2 1054.3 330.7 1100.0 328.0C1145.7 325.3 1245.0 322.6 1274.0 321.5"/>
<path stroke="#35935F" d="M166.0 426.0C180.0 430.0 219.3 440.2 250.0 450.0C280.7 459.8 316.7 474.2 350.0 485.0C383.3 495.8 415.0 504.5 450.0 515.0C485.0 525.5 518.3 536.8 560.0 548.0C601.7 559.2 660.0 573.3 700.0 582.0C740.0 590.7 773.3 595.3 800.0 600.0C826.7 604.7 838.3 606.0 860.0 610.0C881.7 614.0 911.7 620.5 930.0 624.0C948.3 627.5 958.3 630.7 970.0 631.0C981.7 631.3 991.0 629.5 1000.0 626.0C1009.0 622.5 1014.9 617.0 1023.7 610.0C1032.5 603.0 1044.3 593.2 1053.0 584.0C1061.7 574.8 1068.7 564.7 1076.0 555.0C1083.3 545.3 1089.3 537.5 1096.6 525.8C1103.9 514.1 1113.2 498.6 1120.0 485.0C1126.8 471.4 1130.6 460.5 1137.4 444.0C1144.2 427.5 1146.8 419.8 1160.8 385.8C1174.8 351.8 1202.8 287.6 1221.7 240.0C1240.6 192.4 1265.3 123.3 1274.0 100.0"/>
</g>
<g stroke="#000" stroke-width="2.9" fill="none" stroke-linecap="butt">
<path d="M110.5 62V876"/><path d="M109 874.6H1329"/>
<path d="M103.5 87.4H110M103.5 298H110M103.5 508.7H110M103.5 719.4H110"/>
<path d="M154 875V881.5M434 875V881.5M714 875V881.5M994 875V881.5M1274 875V881.5"/>
</g>
<g class="tk" text-anchor="end">
<text x="96.5" y="95.9">5.0</text><text x="96.5" y="306.5">2.5</text><text x="96.5" y="517.2">0.0</text><text x="96.5" y="727.9">-2.5</text>
</g>
<g class="tk" text-anchor="middle">
<text x="154" y="905.3">0</text><text x="434" y="905.3">25</text><text x="714" y="905.3">50</text><text x="994" y="905.3">75</text><text x="1274" y="905.3">100</text>
</g>
<text class="ax" text-anchor="middle" x="719" y="938.8">Pseudotime</text>
<text class="ax" text-anchor="middle" transform="translate(35.6 468) rotate(-90)">Normalized expression</text>
<text class="ti" text-anchor="middle" x="719" y="40">Cluster 12</text>
</svg>
</body></html>
